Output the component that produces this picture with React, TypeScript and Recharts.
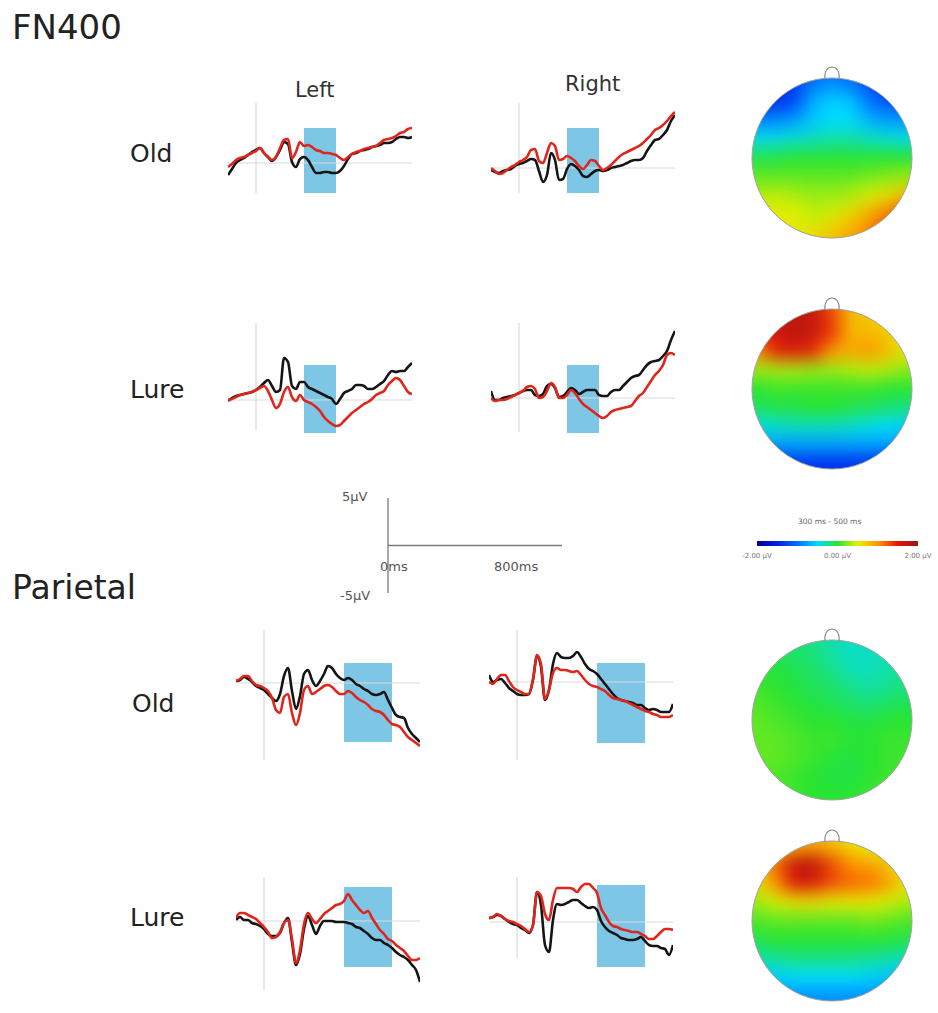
import React from 'react';
import {
  LineChart,
  Line,
  XAxis,
  YAxis,
  ReferenceLine,
  ReferenceArea,
  ReferenceDot,
  ScatterChart,
  Scatter,
} from 'recharts';

// time grid (ms) shared by every waveform
const times = [
  -175, -150, -125, -100, -75, -50, -25, 0, 25, 50, 75, 100, 125, 150, 175, 200, 225, 250, 275, 300,
  325, 350, 375, 400, 425, 450, 475, 500, 525, 550, 575, 600, 625, 650, 675, 700, 725, 750, 775, 800,
  825, 850, 875, 900, 925, 950, 975,
];

// FN400, Old, left / right (µV)
const fnOldLeftBlack = [-1.2, -0.6, 0.0, 0.3, 0.5, 0.8, 1.1, 1.3, 1.5, 1.0, 0.6, 0.2, 0.6, 1.3, 2.1, 1.9, 0.1, -0.4, 0.4, 0.6, 0.3, -0.4, -1.0, -1.0, -0.9, -0.9, -1.0, -1.0, -0.8, -0.3, 0.4, 0.9, 1.0, 1.2, 1.3, 1.4, 1.6, 1.7, 1.8, 2.0, 2.0, 2.1, 2.4, 2.6, 2.6, 2.5, 2.6];
const fnOldLeftRed = [-0.4, -0.1, 0.3, 0.5, 0.6, 0.8, 1.0, 1.2, 1.5, 1.0, 0.6, 0.3, 0.6, 1.5, 2.3, 2.4, 0.5, 1.1, 2.1, 1.7, 1.8, 1.6, 1.3, 1.2, 1.0, 1.0, 0.9, 0.8, 0.5, 0.3, 0.6, 0.9, 1.1, 1.2, 1.4, 1.5, 1.6, 1.7, 2.0, 2.3, 2.4, 2.5, 2.7, 3.0, 3.1, 3.4, 3.5];
const fnOldRightBlack = [-0.2, -0.4, -0.5, -0.3, -0.2, -0.1, 0.2, 0.4, 0.5, 0.7, 0.9, 0.8, -0.3, -1.4, -0.7, 1.5, 0.8, -1.2, -1.1, -0.1, 0.4, 0.2, -0.2, -0.8, -0.9, -0.6, -0.3, -0.2, -0.3, -0.2, 0, 0.1, 0.2, 0.3, 0.5, 0.7, 0.8, 0.8, 1.0, 1.7, 2.3, 2.8, 2.9, 3.3, 3.8, 4.7, 5.3];
const fnOldRightRed = [0, -0.3, -0.6, -0.5, -0.2, 0.1, 0.3, 0.6, 0.8, 1.1, 1.8, 1.9, 0.7, 0.5, 1.5, 2.5, 2.2, 0.8, 0.9, 1.2, 1.0, 0.7, 0.2, -0.1, 0.3, 0.8, 0.7, 0.2, -0.2, 0, 0.3, 0.7, 1.1, 1.4, 1.6, 1.8, 2.0, 2.2, 2.5, 2.9, 3.3, 3.8, 4.0, 4.3, 4.7, 5.2, 5.6];

// FN400, Lure
const fnLureLeftBlack = [-0.1, 0.2, 0.4, 0.5, 0.6, 0.7, 0.8, 1.0, 1.3, 1.7, 2.0, 1.4, 0.8, 1.0, 4.2, 3.8, 1.4, 1.1, 1.8, 1.8, 1.3, 1.1, 0.9, 0.7, 0.5, 0.3, 0.1, -0.4, 0.1, 0.7, 0.9, 1.1, 1.5, 1.5, 1.4, 1.1, 1.1, 1.3, 1.6, 1.9, 2.5, 2.9, 2.8, 2.9, 2.9, 3.3, 3.7];
const fnLureLeftRed = [0, 0.1, 0.3, 0.5, 0.6, 0.7, 0.8, 1.0, 1.2, 1.4, 0.9, 0, -0.8, -0.4, 0.8, 1.3, 0.3, -0.1, 0.5, 0, -0.2, -0.4, -0.7, -1.1, -1.7, -2.1, -2.4, -2.6, -2.5, -2.1, -1.7, -1.3, -1.0, -0.7, -0.4, -0.2, 0.1, 0.5, 0.7, 0.9, 1.5, 1.9, 2.2, 2.0, 1.4, 0.8, 0.6];
const fnLureRightBlack = [0.7, -0.2, -0.2, 0, 0.1, 0.2, 0.3, 0.5, 0.7, 0.8, 0.8, 0.3, 0.2, 0.4, 1.2, 1.4, 1.0, 0.1, 0.2, 0.6, 1.0, 0.8, 0.4, 0.6, 0.8, 0.8, 0.8, 0.3, 0.2, 0.2, 0.6, 0.8, 0.8, 1.2, 1.6, 2.0, 2.2, 2.3, 2.8, 3.3, 3.6, 3.7, 3.8, 4.2, 4.7, 5.8, 6.7];
const fnLureRightRed = [0, -0.3, -0.2, -0.2, -0.1, 0.1, 0.3, 0.5, 0.7, 1.1, 1.2, 0.9, 0, 0.1, 0.7, 1.5, 1.1, 0, 0, 0.3, 0.8, 0.5, -0.1, -0.6, -0.9, -1.2, -1.5, -1.8, -2.0, -1.8, -1.4, -1.2, -1.1, -1.0, -0.9, -0.8, -0.3, 0.2, 0.5, 1.1, 1.7, 2.3, 2.7, 3.3, 4.3, 4.5, 4.3];

// Parietal, Old
const parOldLeftBlack = [0.2, 0.3, 0.6, 0.4, 0.1, -0.3, -0.5, -0.7, -1.1, -1.5, -1.8, -1.1, 0.7, 1.5, -0.8, -2.6, -1.3, 0.9, 1.3, 0.3, -0.3, 0.2, 0.9, 1.7, 1.5, 0.9, 0.5, 0.3, 0.5, 0.3, -0.1, -0.3, -0.6, -0.8, -1.1, -1.2, -1.1, -0.9, -1.7, -2.5, -3.2, -3.4, -3.5, -4.5, -5.1, -5.5, -5.9];
const parOldLeftRed = [0.2, 0.4, 0.7, 0.7, 0.2, -0.2, -0.3, -0.5, -0.8, -1.5, -2.7, -3.0, -1.4, -1.1, -3.0, -4.2, -3.0, -0.7, -0.3, -1.1, -0.9, -0.6, -0.3, -0.2, -0.4, -0.8, -1.1, -1.1, -0.8, -1.0, -1.4, -1.7, -1.9, -2.2, -2.6, -2.8, -2.9, -3.2, -3.7, -4.1, -4.2, -4.4, -4.9, -5.4, -5.7, -6.0, -6.3];
const parOldRightBlack = [0.7, 0, 0.2, 0.3, -0.1, -0.6, -0.9, -1.2, -1.3, -1.3, -1.2, 0.2, 2.6, 1.5, -1.8, -0.8, 1.8, 2.9, 2.5, 2.4, 2.4, 2.6, 3.0, 2.5, 1.8, 1.3, 1.1, 0.8, 0.3, -0.2, -0.7, -1.2, -1.6, -1.8, -1.9, -2.0, -2.1, -2.3, -2.3, -2.6, -2.8, -2.7, -2.8, -3.0, -3.0, -3.0, -2.2];
const parOldRightRed = [0, -0.2, 0.3, 0.7, 0.7, 0.1, -0.5, -0.8, -1.0, -1.2, -1.2, 0.3, 2.7, 1.8, -1.7, -0.8, 0.9, 1.4, 1.2, 1.2, 1.1, 1.0, 1.1, 0.7, 0.2, -0.2, -0.4, -0.5, -0.7, -0.9, -1.3, -1.6, -1.7, -1.8, -1.9, -2.1, -2.3, -2.5, -2.7, -2.9, -3.0, -3.2, -3.3, -3.5, -3.5, -3.5, -3.3];

// Parietal, Lure
const parLureLeftBlack = [0.1, 0.4, 0.1, 0.1, -0.2, -0.3, -0.5, -0.8, -1.3, -1.5, -1.5, -1.2, -0.2, 0.3, -2.1, -4.4, -3.3, -0.8, 0.5, -0.4, -1.3, -0.5, 0, 0, 0, -0.1, -0.1, -0.1, -0.2, -0.3, -0.6, -0.7, -1.0, -1.3, -1.7, -1.9, -1.9, -2.2, -2.4, -2.7, -3.1, -3.4, -3.6, -3.9, -4.4, -4.9, -6.1];
const parLureLeftRed = [0.3, 0.8, 0.8, 0.6, 0.4, 0.2, -0.2, -0.6, -1.1, -1.7, -1.6, -1.1, -0.2, 0.1, -1.8, -4.2, -2.9, -0.3, 0.8, 0.2, -0.2, 0.2, 0.7, 1.0, 1.3, 1.6, 1.7, 2.0, 2.7, 2.1, 1.6, 1.1, 0.8, 1.0, 0.3, -0.3, -0.9, -1.3, -1.8, -2.0, -2.4, -2.7, -3.0, -3.5, -3.9, -3.9, -3.7];
const parLureRightBlack = [0.4, 0.5, 0.7, 0.6, 0.3, 0, -0.2, -0.3, -0.6, -0.8, -1.1, -0.3, 3.0, 1.7, -2.3, -3.0, 0.2, 1.8, 1.7, 1.8, 2.0, 2.2, 2.2, 1.9, 1.6, 1.4, 1.5, 1.2, 0.1, -0.5, -0.9, -1.1, -1.3, -1.6, -1.7, -1.8, -1.8, -1.7, -1.5, -1.9, -2.3, -2.4, -2.4, -2.6, -2.7, -3.3, -2.3];
const parLureRightRed = [0.4, 0.5, 0.8, 0.6, 0.3, 0.1, 0, -0.2, -0.4, -0.7, -1.0, -0.3, 3.0, 2.6, 0.8, 0.2, 2.2, 3.4, 3.4, 3.4, 3.4, 3.3, 3.0, 3.5, 3.8, 3.8, 3.4, 2.9, 1.4, 0.7, 0, -0.4, -0.5, -0.7, -0.8, -0.9, -1.0, -1.0, -1.2, -1.4, -1.7, -1.7, -1.4, -1.0, -0.7, -0.7, -0.8];

// analysis windows (ms)
const fnWindow = [300, 500];
const parWindow = [500, 800];

// topographic maps, 9x9 grid of µV values, rows front (top) to back
const topoFnOld = [
  [-1.4, -1.4, -1.3, -1.0, -0.9, -1.0, -1.2, -1.3, -1.3],
  [-1.4, -1.4, -1.3, -0.7, -0.55, -0.6, -1.0, -1.2, -1.2],
  [-0.9, -0.9, -0.8, -0.6, -0.5, -0.5, -0.7, -0.8, -0.8],
  [-0.45, -0.45, -0.4, -0.35, -0.3, -0.3, -0.35, -0.4, -0.45],
  [-0.05, -0.05, 0, 0, 0, 0, 0, 0, 0],
  [0.15, 0.15, 0.15, 0.15, 0.15, 0.15, 0.2, 0.25, 0.3],
  [0.35, 0.4, 0.35, 0.3, 0.3, 0.35, 0.45, 0.6, 0.8],
  [0.5, 0.55, 0.5, 0.4, 0.45, 0.65, 0.9, 1.15, 1.35],
  [0.55, 0.55, 0.55, 0.6, 0.75, 0.9, 1.1, 1.3, 1.45],
];
const topoFnLure = [
  [1.3, 1.6, 1.7, 1.7, 1.3, 0.8, 0.7, 0.6, 0.5],
  [1.4, 1.65, 1.75, 1.7, 1.4, 0.8, 0.8, 0.7, 0.5],
  [1.0, 1.45, 1.55, 1.45, 1.0, 0.9, 1.0, 0.8, 0.5],
  [0.3, 0.35, 0.35, 0.3, 0.3, 0.35, 0.4, 0.35, 0.25],
  [0, 0.05, 0.05, 0.05, 0.05, 0.05, 0.05, 0, 0],
  [-0.1, -0.05, -0.05, 0, 0, -0.05, -0.1, -0.15, -0.2],
  [-0.45, -0.4, -0.35, -0.35, -0.35, -0.4, -0.45, -0.5, -0.55],
  [-0.8, -0.8, -0.8, -0.8, -0.8, -0.8, -0.8, -0.8, -0.85],
  [-1.4, -1.4, -1.4, -1.4, -1.4, -1.4, -1.4, -1.4, -1.4],
];
const topoParOld = [
  [-0.1, -0.1, -0.15, -0.2, -0.3, -0.35, -0.35, -0.3, -0.25],
  [0, -0.05, -0.1, -0.15, -0.25, -0.35, -0.35, -0.3, -0.25],
  [0.05, 0, -0.05, -0.1, -0.15, -0.25, -0.3, -0.25, -0.2],
  [0.1, 0.05, 0, -0.05, -0.1, -0.15, -0.2, -0.15, -0.1],
  [0.15, 0.1, 0.05, 0, 0, -0.05, -0.05, 0, 0],
  [0.15, 0.15, 0.1, 0.05, 0.05, 0, 0, 0.05, 0.05],
  [0.15, 0.15, 0.1, 0.05, 0, -0.05, 0, 0.05, 0.05],
  [0.1, 0.1, 0.05, 0, -0.05, -0.05, 0, 0.05, 0.1],
  [0.1, 0.1, 0.05, 0, 0, 0, 0.05, 0.1, 0.1],
];
const topoParLure = [
  [0.3, 0.55, 0.8, 0.9, 0.75, 0.6, 0.5, 0.4, 0.3],
  [0.65, 1.15, 1.7, 1.75, 1.3, 1.0, 0.9, 0.75, 0.5],
  [0.6, 1.0, 1.55, 1.6, 1.3, 1.2, 1.15, 0.95, 0.55],
  [0.3, 0.45, 0.6, 0.6, 0.55, 0.55, 0.55, 0.45, 0.35],
  [0.1, 0.15, 0.15, 0.15, 0.15, 0.15, 0.2, 0.15, 0.1],
  [-0.05, 0, 0, 0, 0, 0, 0, 0, -0.05],
  [-0.3, -0.25, -0.2, -0.2, -0.2, -0.2, -0.25, -0.3, -0.35],
  [-0.6, -0.55, -0.5, -0.5, -0.5, -0.5, -0.55, -0.6, -0.65],
  [-0.85, -0.85, -0.85, -0.85, -0.85, -0.85, -0.85, -0.85, -0.85],
];

const colorbarTicks = [-2, 0, 2];
const scaleBarTime = [0, 1100];

// colour map used by the topo plots and the colour bar
const mapStops: [number, number[]][] = [
  [-2.0, [0, 0, 140]],
  [-1.5, [0, 30, 230]],
  [-1.0, [0, 110, 255]],
  [-0.5, [0, 220, 255]],
  [0.0, [40, 228, 50]],
  [0.5, [230, 240, 0]],
  [1.0, [255, 150, 0]],
  [1.5, [230, 20, 10]],
  [2.0, [140, 30, 20]],
];

function mapColor(v: number) {
  const x = Math.max(-2, Math.min(2, v));
  for (let i = 0; i < mapStops.length - 1; i++) {
    const [a, ca] = mapStops[i];
    const [b, cb] = mapStops[i + 1];
    if (x <= b) {
      const f = (x - a) / (b - a);
      const c = ca.map((q, j) => Math.round(q + (cb[j] - q) * f));
      return `rgb(${c[0]},${c[1]},${c[2]})`;
    }
  }
  return 'rgb(140,30,20)';
}

const FONT = '"DejaVu Sans", Verdana, sans-serif';
const RED = '#e0261c';
const BLACK = '#151515';
const BOX = '#7ec6e6';

const ERP_W = 184;
const ERP_H = 180;

function ErpPanel({ left, baseline, black, red, vline, box, win }: any) {
  const data = times.map((t, i) => ({ t, black: black[i], red: red[i] }));
  return (
    <div style={{ position: 'absolute', left, top: baseline - ERP_H / 2 }}>
      <LineChart width={ERP_W} height={ERP_H} data={data} margin={{ top: 0, right: 0, bottom: 0, left: 0 }}>
        <XAxis dataKey="t" type="number" domain={[-175, 975]} hide />
        <YAxis type="number" domain={[-9, 9]} hide allowDataOverflow />
        <ReferenceArea x1={win[0]} x2={win[1]} y1={box[1]} y2={box[0]} fill={BOX} fillOpacity={1} stroke="none" />
        <ReferenceLine y={0} stroke="#dadada" strokeWidth={1} />
        <ReferenceLine segment={[{ x: 0, y: vline[0] }, { x: 0, y: vline[1] }]} stroke="#d2d2d2" strokeWidth={1} />
        <Line dataKey="black" type="monotone" stroke={BLACK} strokeWidth={2.6} dot={false} isAnimationActive={false} />
        <Line dataKey="red" type="monotone" stroke={RED} strokeWidth={2.6} dot={false} isAnimationActive={false} />
      </LineChart>
    </div>
  );
}

const TOPO_S = 190;
const HEAD_R = 80;
const CELL = TOPO_S / 10;

function TopoCell(props: any) {
  const { cx, cy, payload } = props;
  if (cx == null || cy == null || !payload) return null;
  let x0 = cx - CELL / 2 - 0.5;
  let x1 = cx + CELL / 2 + 0.5;
  let y0 = cy - CELL / 2 - 0.5;
  let y1 = cy + CELL / 2 + 0.5;
  if (payload.col === 0) x0 -= 30;
  if (payload.col === 8) x1 += 30;
  if (payload.row === 0) y0 -= 30;
  if (payload.row === 8) y1 += 30;
  return <rect x={x0} y={y0} width={x1 - x0} height={y1 - y0} fill={mapColor(payload.v)} />;
}

function HeadOutline(props: any) {
  const { cx, cy } = props;
  const top = cy - HEAD_R;
  return (
    <g>
      <circle cx={cx} cy={cy} r={HEAD_R} fill="none" stroke="#a0a0a0" strokeWidth={1} />
      <path
        d={`M${cx - 7},${top + 1} C${cx - 9},${top - 15} ${cx + 9},${top - 15} ${cx + 7},${top + 1}`}
        fill="none"
        stroke="#8c8c8c"
        strokeWidth={1.2}
      />
    </g>
  );
}

function TopoMap({ id, grid, cx, cy }: any) {
  const cells = grid.flatMap((row: number[], r: number) => row.map((v, c) => ({ col: c, row: r, v })));
  return (
    <div className={`topo-${id}`} style={{ position: 'absolute', left: cx - TOPO_S / 2, top: cy - TOPO_S / 2 }}>
      <style>{`.topo-${id} .recharts-scatter { filter: url(#blur-${id}); clip-path: url(#head-${id}); }`}</style>
      <ScatterChart width={TOPO_S} height={TOPO_S} margin={{ top: 0, right: 0, bottom: 0, left: 0 }}>
        <defs>
          <clipPath id={`head-${id}`} clipPathUnits="userSpaceOnUse">
            <circle cx={TOPO_S / 2} cy={TOPO_S / 2} r={HEAD_R} />
          </clipPath>
          <filter id={`blur-${id}`} x="-30%" y="-30%" width="160%" height="160%" colorInterpolationFilters="sRGB">
            <feGaussianBlur stdDeviation={9} />
          </filter>
        </defs>
        <XAxis dataKey="col" type="number" domain={[-1, 9]} hide />
        <YAxis dataKey="row" type="number" domain={[-1, 9]} reversed hide />
        <Scatter data={cells} shape={TopoCell} isAnimationActive={false} />
        <ReferenceDot x={4} y={4} r={HEAD_R} shape={HeadOutline} />
      </ScatterChart>
    </div>
  );
}

function ColorBar() {
  const data = colorbarTicks.map((v) => ({ v, mid: 0.5 }));
  return (
    <div style={{ position: 'absolute', left: 737, top: 541 }}>
      <LineChart width={201} height={19} data={data} margin={{ top: 0, right: 20, bottom: 0, left: 20 }}>
        <defs>
          <linearGradient id="mapbar" x1="0" y1="0" x2="1" y2="0">
            {mapStops.map(([v]) => (
              <stop key={v} offset={`${((v + 2) / 4) * 100}%`} stopColor={mapColor(v)} />
            ))}
          </linearGradient>
        </defs>
        <XAxis
          dataKey="v"
          type="number"
          domain={[-2, 2]}
          ticks={colorbarTicks}
          tickFormatter={(v: number) => `${v.toFixed(2)} µV`}
          axisLine={false}
          tickLine={false}
          height={14}
          tickMargin={1}
          interval={0}
          tick={{ fontSize: 7, fill: '#777', fontFamily: FONT }}
        />
        <YAxis type="number" domain={[0, 1]} hide />
        <ReferenceArea x1={-2} x2={2} y1={0} y2={1} fill="url(#mapbar)" fillOpacity={1} stroke="none" />
        <Line dataKey="mid" stroke="none" dot={false} isAnimationActive={false} />
      </LineChart>
    </div>
  );
}

function ScaleBar() {
  const data = scaleBarTime.map((t) => ({ t, base: 0 }));
  return (
    <div style={{ position: 'absolute', left: 386, top: 496 }}>
      <LineChart width={180} height={99} data={data} margin={{ top: 2, right: 4, bottom: 2, left: 2 }}>
        <XAxis dataKey="t" type="number" domain={[0, 1100]} hide />
        <YAxis type="number" domain={[-5, 5]} hide />
        <ReferenceLine segment={[{ x: 0, y: 5 }, { x: 0, y: -5 }]} stroke="#7a7a7a" strokeWidth={1.3} />
        <Line dataKey="base" stroke="#7a7a7a" strokeWidth={1.3} dot={false} isAnimationActive={false} />
      </LineChart>
    </div>
  );
}

function Txt({ x, capTop, size, children, color = '#222' }: any) {
  return (
    <div
      style={{
        position: 'absolute',
        left: x,
        top: capTop - 0.117 * size,
        fontSize: size,
        lineHeight: 1,
        fontFamily: FONT,
        color,
        whiteSpace: 'nowrap',
      }}
    >
      {children}
    </div>
  );
}

export default function App() {
  return (
    <div
      style={{
        position: 'absolute',
        left: 0,
        top: 0,
        width: 938,
        height: 1013,
        background: '#fff',
        overflow: 'hidden',
        fontFamily: FONT,
      }}
    >
      <Txt x={12} capTop={14} size={34}>FN400</Txt>
      <Txt x={12} capTop={575} size={33}>Parietal</Txt>

      <Txt x={295} capTop={82} size={21} color="#333">Left</Txt>
      <Txt x={565} capTop={76} size={21} color="#333">Right</Txt>

      <Txt x={130} capTop={144} size={25}>Old</Txt>
      <Txt x={130} capTop={380} size={25}>Lure</Txt>
      <Txt x={132} capTop={694} size={25}>Old</Txt>
      <Txt x={130} capTop={908} size={25}>Lure</Txt>

      <ErpPanel left={228} baseline={163} black={fnOldLeftBlack} red={fnOldLeftRed} vline={[6, -3]} box={[3.5, -3]} win={fnWindow} />
      <ErpPanel left={491} baseline={168} black={fnOldRightBlack} red={fnOldRightRed} vline={[6.5, -2.5]} box={[4, -2.5]} win={fnWindow} />
      <ErpPanel left={228} baseline={400} black={fnLureLeftBlack} red={fnLureLeftRed} vline={[7.7, -3]} box={[3.5, -3.3]} win={fnWindow} />
      <ErpPanel left={491} baseline={398} black={fnLureRightBlack} red={fnLureRightRed} vline={[7.5, -3.4]} box={[3.3, -3.5]} win={fnWindow} />

      <ErpPanel left={236} baseline={683} black={parOldLeftBlack} red={parOldLeftRed} vline={[5.3, -7.7]} box={[2, -5.9]} win={parWindow} />
      <ErpPanel left={489} baseline={682} black={parOldRightBlack} red={parOldRightRed} vline={[5.2, -7.8]} box={[1.9, -6.1]} win={parWindow} />
      <ErpPanel left={236} baseline={921} black={parLureLeftBlack} red={parLureLeftRed} vline={[4.4, -6.9]} box={[3.4, -4.6]} win={parWindow} />
      <ErpPanel left={489} baseline={922} black={parLureRightBlack} red={parLureRightRed} vline={[4.5, -3.6]} box={[3.7, -4.5]} win={parWindow} />

      <ScaleBar />
      <Txt x={342} capTop={492} size={13} color="#555">5µV</Txt>
      <Txt x={380} capTop={562} size={13} color="#555">0ms</Txt>
      <Txt x={494} capTop={562} size={13} color="#555">800ms</Txt>
      <Txt x={340} capTop={591} size={13} color="#555">-5µV</Txt>

      <TopoMap id="a" grid={topoFnOld} cx={832} cy={158} />
      <TopoMap id="b" grid={topoFnLure} cx={832} cy={389} />
      <TopoMap id="c" grid={topoParOld} cx={832} cy={720} />
      <TopoMap id="d" grid={topoParLure} cx={832} cy={921} />

      <Txt x={798} capTop={519} size={7.5} color="#666">300 ms - 500 ms</Txt>
      <ColorBar />
    </div>
  );
}
